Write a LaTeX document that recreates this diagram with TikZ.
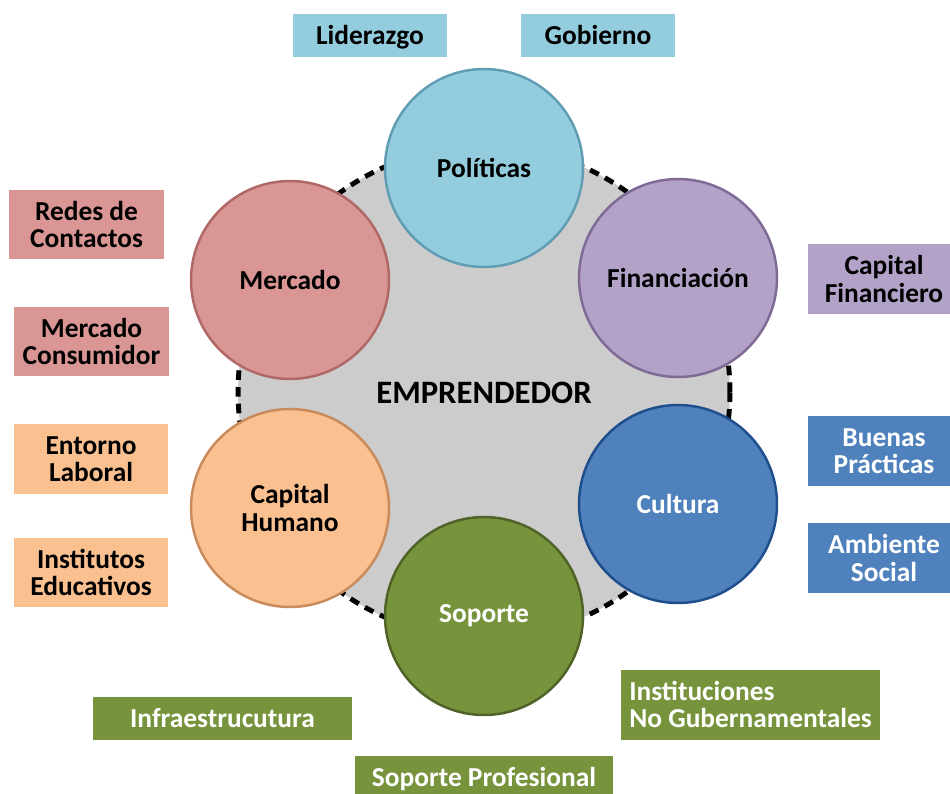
\documentclass[tikz,border=0pt]{standalone}
\usepackage{fontspec}
\setmainfont{Carlito}
\usetikzlibrary{positioning}
\definecolor{politicas}{HTML}{93CDDD}
\definecolor{politicasB}{HTML}{5E9DB3}
\definecolor{finanzas}{HTML}{B3A2C7}
\definecolor{finanzasB}{HTML}{7F6A95}
\definecolor{cultura}{HTML}{4F81BD}
\definecolor{culturaB}{HTML}{1F4E8C}
\definecolor{soporte}{HTML}{77933C}
\definecolor{soporteB}{HTML}{4F6228}
\definecolor{humano}{HTML}{FAC090}
\definecolor{humanoB}{HTML}{C98B5C}
\definecolor{mercado}{HTML}{D99694}
\definecolor{mercadoB}{HTML}{AF6866}
\definecolor{fondo}{HTML}{CCCCCC}

\begin{document}
\begin{tikzpicture}[x=0.02cm, y=-0.02cm,
    every node/.style={font=\bfseries\fontsize{15.6}{15.6}\selectfont, align=center},
    area/.style={circle, minimum size=3.96cm, line width=1.4pt, inner sep=0pt},
    tag/.style={rectangle, minimum width=3.1cm, minimum height=1.4cm, inner sep=2pt},
    tagline/.style={tag, minimum height=0.86cm, text height=12pt, text depth=2pt}]
  \useasboundingbox (0,0) rectangle (950,794);
  \clip (0,0) rectangle (950,794);

  % centro
  \node[circle, minimum size=9.84cm, fill=fondo, draw=black, line width=2.8pt,
    dash pattern=on 5.5pt off 4pt] (emprendedor) at (484,392) {};
  \node[font=\bfseries\fontsize{18.6}{19}\selectfont] (titulo) at (484,393) {EMPRENDEDOR};

  % areas
  \node[area, fill=politicas, draw=politicasB] (politicas) at (484,168) {Políticas};
  \node[area, fill=finanzas, draw=finanzasB] (financiacion) at (678,278) {Financiación};
  \node[area, fill=cultura, draw=culturaB, text=white] (cultura) at (678,504) {Cultura};
  \node[area, fill=soporte, draw=soporteB, text=white] (soporte) at (484,616) {Soporte};
  \node[area, fill=humano, draw=humanoB] (humano) at (290,508) {Capital\\Humano};
  \node[area, fill=mercado, draw=mercadoB] (mercado) at (290,280) {Mercado};

  % etiquetas
  \node[tagline, fill=politicas] (liderazgo) at (370,35.5) {Liderazgo};
  \node[tagline, fill=politicas] (gobierno) at (598,35.5) {Gobierno};
  \node[tag, fill=mercado] (redes) at (86.5,224.5) {Redes de\\Contactos};
  \node[tag, fill=mercado] (consumidor) at (91.5,341.5) {Mercado\\Consumidor};
  \node[tag, fill=humano] (entorno) at (91,459) {Entorno\\Laboral};
  \node[tag, fill=humano] (institutos) at (91,572.5) {Institutos\\Educativos};
  \node[tag, fill=finanzas, minimum width=3.04cm] (capital) at (884,279) {Capital\\Financiero};
  \node[tag, fill=cultura, text=white, minimum width=3.04cm] (buenas) at (884,451) {Buenas\\Prácticas};
  \node[tag, fill=cultura, text=white, minimum width=3.04cm] (ambiente) at (884,558) {Ambiente\\Social};
  \node[tag, fill=soporte, text=white, minimum width=5.2cm, align=left] (ong) at (750.5,704.5) {Instituciones\\No Gubernamentales};
  \node[tagline, fill=soporte, text=white, minimum width=5.2cm] (infra) at (222.5,718.5) {Infraestrucutura};
  \node[tagline, fill=soporte, text=white, minimum width=5.18cm] (profesional) at (484,777.5) {Soporte Profesional};
\end{tikzpicture}
\end{document}
